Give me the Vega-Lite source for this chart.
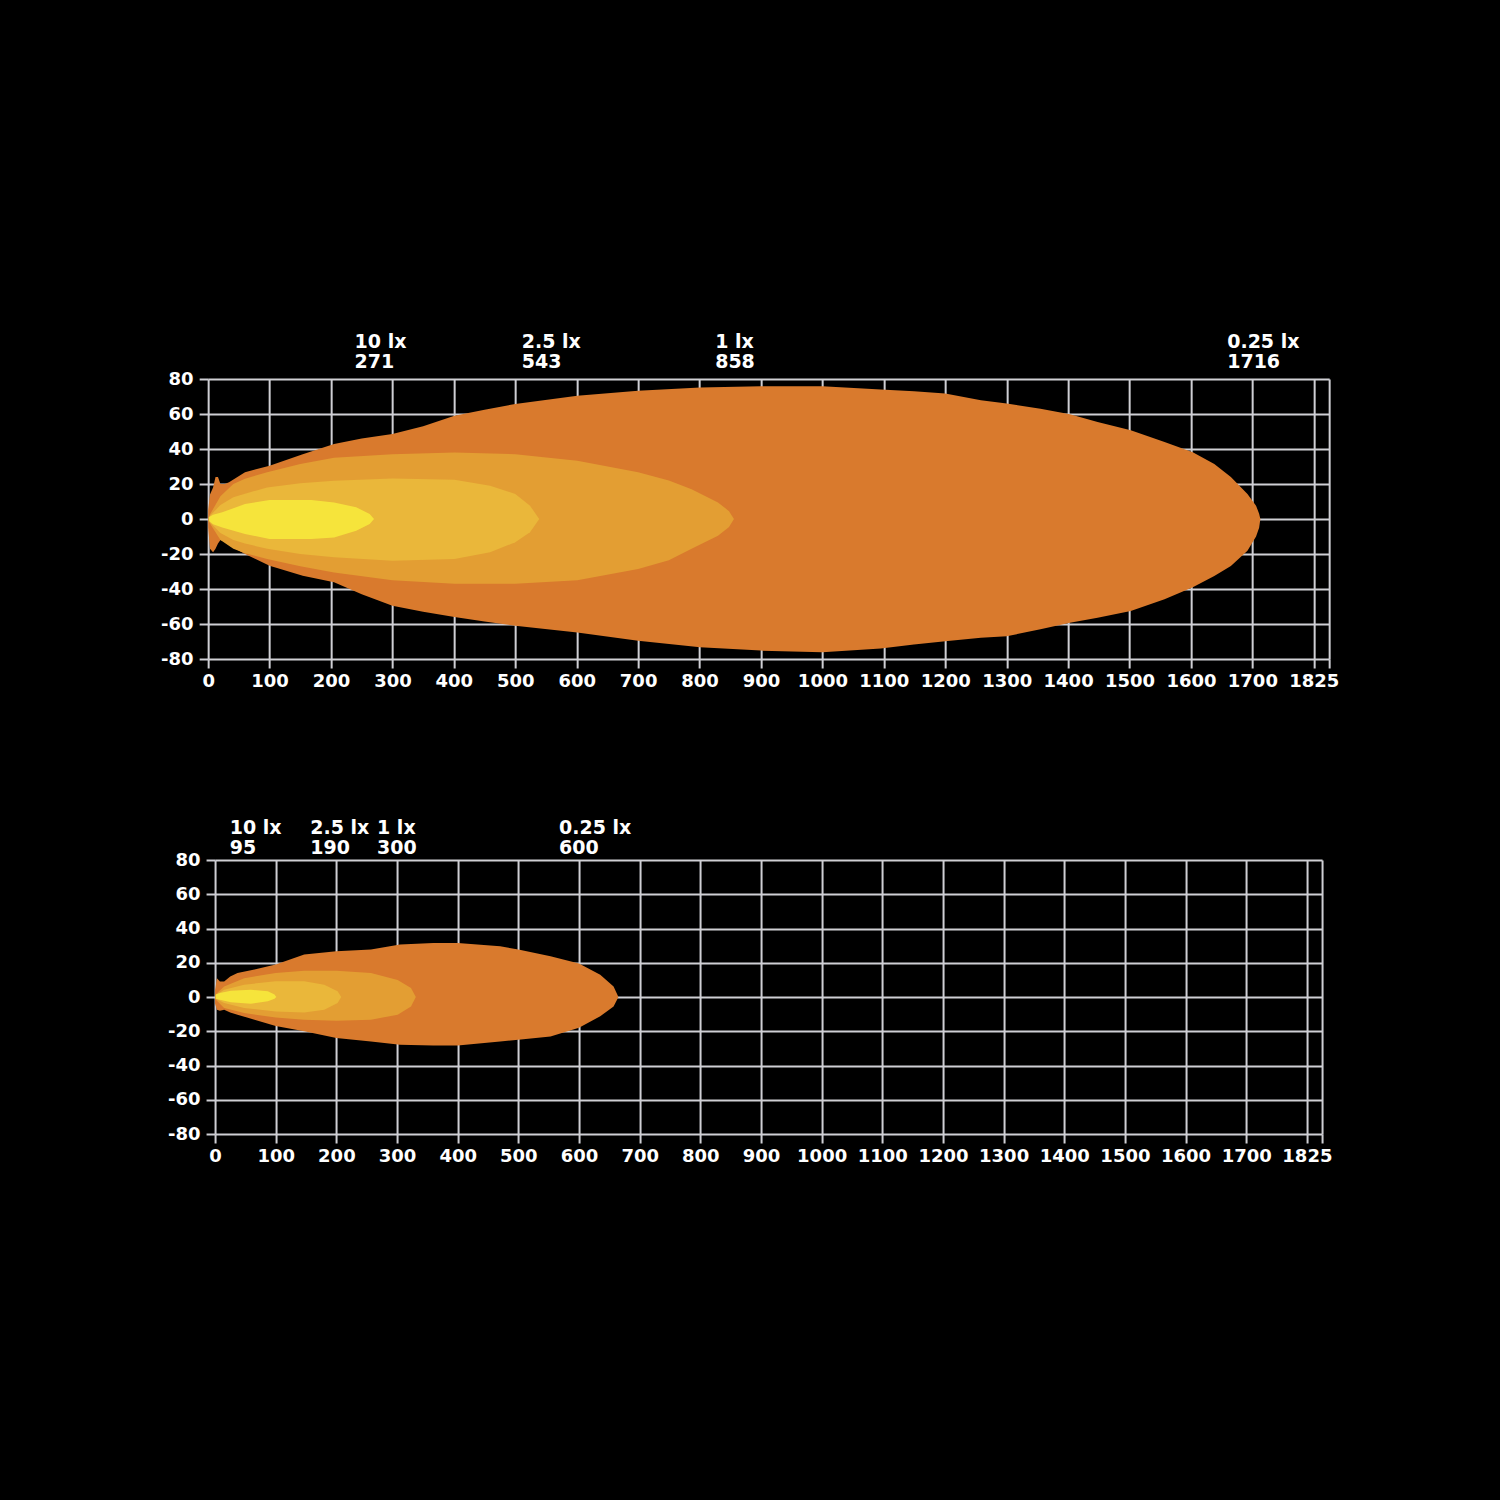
{
  "$schema": "https://vega.github.io/schema/vega-lite/v6.json",
  "background": "#000000",
  "padding": {"left": 160, "top": 333, "right": 165, "bottom": 345},
  "spacing": 129,
  "center": true,
  "config": {
    "view": {"stroke": null},
    "axis": {
      "labelColor": "#ffffff",
      "labelFont": "DejaVu Sans",
      "labelFontWeight": "bold",
      "labelFontSize": 18,
      "gridColor": "#cfcfd4",
      "gridWidth": 2,
      "gridOpacity": 1,
      "tickColor": "#cfcfd4",
      "tickWidth": 2,
      "tickSize": 9,
      "domain": false,
      "title": null,
      "zindex": 1,
      "labelOverlap": false,
      "labelFlush": false
    },
    "text": {"font": "DejaVu Sans", "fontWeight": "bold", "fontSize": 19, "color": "#ffffff", "align": "left", "baseline": "alphabetic"}
  },
  "datasets": {
    "top": [
      {"lux": "0.25", "x": 0, "lo": -5, "hi": 5},
      {"lux": "0.25", "x": 3, "lo": -17, "hi": 14},
      {"lux": "0.25", "x": 8, "lo": -19, "hi": 18},
      {"lux": "0.25", "x": 12, "lo": -17, "hi": 24},
      {"lux": "0.25", "x": 16, "lo": -14, "hi": 24},
      {"lux": "0.25", "x": 20, "lo": -12, "hi": 20},
      {"lux": "0.25", "x": 27, "lo": -13, "hi": 20},
      {"lux": "0.25", "x": 34, "lo": -15, "hi": 21},
      {"lux": "0.25", "x": 60, "lo": -20, "hi": 26.7},
      {"lux": "0.25", "x": 100, "lo": -26.7, "hi": 30.5},
      {"lux": "0.25", "x": 154, "lo": -32.4, "hi": 37},
      {"lux": "0.25", "x": 205, "lo": -36.2, "hi": 42.8},
      {"lux": "0.25", "x": 250, "lo": -43, "hi": 46},
      {"lux": "0.25", "x": 300, "lo": -49.5, "hi": 48.6},
      {"lux": "0.25", "x": 350, "lo": -53, "hi": 53},
      {"lux": "0.25", "x": 401, "lo": -56, "hi": 59},
      {"lux": "0.25", "x": 450, "lo": -58.5, "hi": 62.5},
      {"lux": "0.25", "x": 500, "lo": -61, "hi": 65.7},
      {"lux": "0.25", "x": 601, "lo": -64.8, "hi": 70.5},
      {"lux": "0.25", "x": 700, "lo": -69.5, "hi": 73.3},
      {"lux": "0.25", "x": 801, "lo": -73.3, "hi": 75.2},
      {"lux": "0.25", "x": 900, "lo": -75.2, "hi": 75.8},
      {"lux": "0.25", "x": 1000, "lo": -76.2, "hi": 75.8},
      {"lux": "0.25", "x": 1095, "lo": -74, "hi": 74},
      {"lux": "0.25", "x": 1149, "lo": -71.7, "hi": 73},
      {"lux": "0.25", "x": 1200, "lo": -69.8, "hi": 71.7},
      {"lux": "0.25", "x": 1258, "lo": -67.9, "hi": 67.9},
      {"lux": "0.25", "x": 1300, "lo": -67, "hi": 66},
      {"lux": "0.25", "x": 1355, "lo": -63, "hi": 63},
      {"lux": "0.25", "x": 1403, "lo": -59.3, "hi": 59.8},
      {"lux": "0.25", "x": 1448, "lo": -56.4, "hi": 55.4},
      {"lux": "0.25", "x": 1502, "lo": -52.6, "hi": 50.7},
      {"lux": "0.25", "x": 1557, "lo": -45.9, "hi": 44},
      {"lux": "0.25", "x": 1603, "lo": -39, "hi": 38.2},
      {"lux": "0.25", "x": 1638, "lo": -32.5, "hi": 31.5},
      {"lux": "0.25", "x": 1665, "lo": -26.8, "hi": 24},
      {"lux": "0.25", "x": 1692, "lo": -18.2, "hi": 14.3},
      {"lux": "0.25", "x": 1706, "lo": -10, "hi": 7.6},
      {"lux": "0.25", "x": 1711, "lo": -5, "hi": 3},
      {"lux": "0.25", "x": 1713, "lo": 0, "hi": 0},

      {"lux": "1", "x": 2, "lo": -2, "hi": 2},
      {"lux": "1", "x": 20, "lo": -12, "hi": 13},
      {"lux": "1", "x": 41, "lo": -17, "hi": 20},
      {"lux": "1", "x": 60, "lo": -19.5, "hi": 23},
      {"lux": "1", "x": 96, "lo": -22.9, "hi": 26.7},
      {"lux": "1", "x": 150, "lo": -27, "hi": 31.5},
      {"lux": "1", "x": 205, "lo": -30.5, "hi": 35},
      {"lux": "1", "x": 300, "lo": -35, "hi": 37},
      {"lux": "1", "x": 401, "lo": -37, "hi": 38},
      {"lux": "1", "x": 500, "lo": -37, "hi": 37},
      {"lux": "1", "x": 601, "lo": -35, "hi": 33.3},
      {"lux": "1", "x": 700, "lo": -28.6, "hi": 26.7},
      {"lux": "1", "x": 750, "lo": -23.5, "hi": 22},
      {"lux": "1", "x": 787, "lo": -17, "hi": 17},
      {"lux": "1", "x": 830, "lo": -9.5, "hi": 9.5},
      {"lux": "1", "x": 848, "lo": -4.5, "hi": 4.5},
      {"lux": "1", "x": 856, "lo": 0, "hi": 0},

      {"lux": "2.5", "x": 2, "lo": -1.5, "hi": 1.5},
      {"lux": "2.5", "x": 20, "lo": -8, "hi": 8},
      {"lux": "2.5", "x": 41, "lo": -12, "hi": 12.4},
      {"lux": "2.5", "x": 60, "lo": -14, "hi": 14.5},
      {"lux": "2.5", "x": 96, "lo": -17, "hi": 18},
      {"lux": "2.5", "x": 150, "lo": -20, "hi": 20.5},
      {"lux": "2.5", "x": 205, "lo": -21.9, "hi": 21.9},
      {"lux": "2.5", "x": 300, "lo": -23.8, "hi": 23.2},
      {"lux": "2.5", "x": 401, "lo": -22.9, "hi": 22.5},
      {"lux": "2.5", "x": 459, "lo": -19, "hi": 19},
      {"lux": "2.5", "x": 500, "lo": -13.3, "hi": 14.3},
      {"lux": "2.5", "x": 524, "lo": -7.6, "hi": 7.6},
      {"lux": "2.5", "x": 539, "lo": 0, "hi": 0},

      {"lux": "10", "x": 1, "lo": -1, "hi": 1},
      {"lux": "10", "x": 8, "lo": -3, "hi": 2.5},
      {"lux": "10", "x": 23, "lo": -4.8, "hi": 3.8},
      {"lux": "10", "x": 60, "lo": -8.6, "hi": 8.6},
      {"lux": "10", "x": 100, "lo": -11.4, "hi": 10.9},
      {"lux": "10", "x": 168, "lo": -11.4, "hi": 10.9},
      {"lux": "10", "x": 205, "lo": -10.5, "hi": 9.5},
      {"lux": "10", "x": 241, "lo": -6.7, "hi": 6.7},
      {"lux": "10", "x": 263, "lo": -2.9, "hi": 2.9},
      {"lux": "10", "x": 270, "lo": 0, "hi": 0}
    ],
    "bottom": [
      {"lux": "0.25", "x": 0, "lo": -4, "hi": 4},
      {"lux": "0.25", "x": 3, "lo": -7.4, "hi": 11},
      {"lux": "0.25", "x": 8, "lo": -8, "hi": 9},
      {"lux": "0.25", "x": 15, "lo": -7.4, "hi": 9},
      {"lux": "0.25", "x": 25, "lo": -9, "hi": 12},
      {"lux": "0.25", "x": 37, "lo": -10.3, "hi": 14},
      {"lux": "0.25", "x": 65, "lo": -13.3, "hi": 16},
      {"lux": "0.25", "x": 100, "lo": -17, "hi": 19},
      {"lux": "0.25", "x": 147, "lo": -20, "hi": 24.8},
      {"lux": "0.25", "x": 200, "lo": -24, "hi": 26.7},
      {"lux": "0.25", "x": 257, "lo": -26, "hi": 27.7},
      {"lux": "0.25", "x": 305, "lo": -27.9, "hi": 30.6},
      {"lux": "0.25", "x": 360, "lo": -28.3, "hi": 31.6},
      {"lux": "0.25", "x": 400, "lo": -28.3, "hi": 31.6},
      {"lux": "0.25", "x": 470, "lo": -26, "hi": 29.6},
      {"lux": "0.25", "x": 500, "lo": -25, "hi": 27.7},
      {"lux": "0.25", "x": 553, "lo": -23, "hi": 23.8},
      {"lux": "0.25", "x": 600, "lo": -18, "hi": 19.5},
      {"lux": "0.25", "x": 635, "lo": -11.3, "hi": 13},
      {"lux": "0.25", "x": 657, "lo": -5.5, "hi": 6.2},
      {"lux": "0.25", "x": 665, "lo": 0, "hi": 0},

      {"lux": "1", "x": 1, "lo": -1.5, "hi": 1.5},
      {"lux": "1", "x": 15, "lo": -6.4, "hi": 6.2},
      {"lux": "1", "x": 48, "lo": -9.4, "hi": 11},
      {"lux": "1", "x": 100, "lo": -11.9, "hi": 14},
      {"lux": "1", "x": 147, "lo": -13.3, "hi": 15.4},
      {"lux": "1", "x": 200, "lo": -13.8, "hi": 15.4},
      {"lux": "1", "x": 257, "lo": -13.3, "hi": 14},
      {"lux": "1", "x": 301, "lo": -10.3, "hi": 10},
      {"lux": "1", "x": 323, "lo": -5.5, "hi": 5.3},
      {"lux": "1", "x": 331, "lo": 0, "hi": 0},

      {"lux": "2.5", "x": 1, "lo": -1, "hi": 1},
      {"lux": "2.5", "x": 15, "lo": -3.5, "hi": 4.3},
      {"lux": "2.5", "x": 48, "lo": -6.4, "hi": 7.2},
      {"lux": "2.5", "x": 100, "lo": -8.4, "hi": 9.2},
      {"lux": "2.5", "x": 147, "lo": -9, "hi": 9.2},
      {"lux": "2.5", "x": 180, "lo": -7.4, "hi": 7.2},
      {"lux": "2.5", "x": 202, "lo": -3.5, "hi": 3.3},
      {"lux": "2.5", "x": 208, "lo": 0, "hi": 0},

      {"lux": "10", "x": 1, "lo": -1, "hi": 1.5},
      {"lux": "10", "x": 8, "lo": -1.6, "hi": 2.3},
      {"lux": "10", "x": 26, "lo": -3.1, "hi": 3.7},
      {"lux": "10", "x": 59, "lo": -3.9, "hi": 4.3},
      {"lux": "10", "x": 87, "lo": -2.5, "hi": 3.3},
      {"lux": "10", "x": 98, "lo": -1, "hi": 1.4},
      {"lux": "10", "x": 101, "lo": 0, "hi": 0}
    ],
    "topLabels": [
      {"name": "10 lx", "x": 271},
      {"name": "2.5 lx", "x": 543},
      {"name": "1 lx", "x": 858},
      {"name": "0.25 lx", "x": 1716}
    ],
    "bottomLabels": [
      {"name": "10 lx", "x": 95},
      {"name": "2.5 lx", "x": 190},
      {"name": "1 lx", "x": 300},
      {"name": "0.25 lx", "x": 600}
    ]
  },
  "vconcat": [
    {
      "width": 1121,
      "height": 280,
      "encoding": {
        "x": {"field": "x", "type": "quantitative", "scale": {"domain": [0, 1825], "nice": false, "zero": false},
          "axis": {"values": [0,100,200,300,400,500,600,700,800,900,1000,1100,1200,1300,1400,1500,1600,1700,1800,1825], "labelPadding": 4,
            "labelExpr": "datum.value == 1800 ? '1825' : (datum.value == 1825 ? '' : '' + datum.value)"}}
      },
      "layer": [
        {
          "data": {"name": "top"},
          "transform": [{"filter": "datum.lux == '0.25'"}],
          "mark": {"type": "area", "color": "#D97A2D", "opacity": 1},
          "encoding": {
            "y": {"field": "lo", "type": "quantitative", "stack": null, "scale": {"domain": [-80, 80], "nice": false, "zero": false},
              "axis": {"values": [-80,-60,-40,-20,0,20,40,60,80], "tickCount": 9, "labelPadding": 6, "labelExpr": "'' + datum.value"}},
            "y2": {"field": "hi"}
          }
        },
        {
          "data": {"name": "top"},
          "transform": [{"filter": "datum.lux == '1'"}],
          "mark": {"type": "area", "color": "#E39E33", "opacity": 1},
          "encoding": {"y": {"field": "lo", "type": "quantitative", "stack": null,
              "axis": {"values": [-80,-60,-40,-20,0,20,40,60,80], "tickCount": 9, "labelPadding": 6, "labelExpr": "'' + datum.value"}}, "y2": {"field": "hi"}}
        },
        {
          "data": {"name": "top"},
          "transform": [{"filter": "datum.lux == '2.5'"}],
          "mark": {"type": "area", "color": "#EAB73A", "opacity": 1},
          "encoding": {"y": {"field": "lo", "type": "quantitative", "stack": null,
              "axis": {"values": [-80,-60,-40,-20,0,20,40,60,80], "tickCount": 9, "labelPadding": 6, "labelExpr": "'' + datum.value"}}, "y2": {"field": "hi"}}
        },
        {
          "data": {"name": "top"},
          "transform": [{"filter": "datum.lux == '10'"}],
          "mark": {"type": "area", "color": "#F6E43B", "opacity": 1},
          "encoding": {"y": {"field": "lo", "type": "quantitative", "stack": null,
              "axis": {"values": [-80,-60,-40,-20,0,20,40,60,80], "tickCount": 9, "labelPadding": 6, "labelExpr": "'' + datum.value"}}, "y2": {"field": "hi"}}
        },
        {
          "data": {"name": "topLabels"},
          "transform": [{"filter": "datum.x != 1716"}],
          "mark": {"type": "text", "dy": -31, "dx": -20, "clip": false},
          "encoding": {"y": {"datum": 80, "type": "quantitative"}, "text": {"field": "name"}}
        },
        {
          "data": {"name": "topLabels"},
          "transform": [{"filter": "datum.x != 1716"}],
          "mark": {"type": "text", "dy": -11, "dx": -20, "clip": false},
          "encoding": {"y": {"datum": 80, "type": "quantitative"}, "text": {"field": "x", "type": "quantitative", "format": "d"}}
        },
        {
          "data": {"name": "topLabels"},
          "transform": [{"filter": "datum.x == 1716"}],
          "mark": {"type": "text", "dy": -31, "dx": -35, "clip": false},
          "encoding": {"y": {"datum": 80, "type": "quantitative"}, "text": {"field": "name"}}
        },
        {
          "data": {"name": "topLabels"},
          "transform": [{"filter": "datum.x == 1716"}],
          "mark": {"type": "text", "dy": -11, "dx": -35, "clip": false},
          "encoding": {"y": {"datum": 80, "type": "quantitative"}, "text": {"field": "x", "type": "quantitative", "format": "d"}}
        }
      ]
    },
    {
      "width": 1107,
      "height": 274,
      "encoding": {
        "x": {"field": "x", "type": "quantitative", "scale": {"domain": [0, 1825], "nice": false, "zero": false},
          "axis": {"values": [0,100,200,300,400,500,600,700,800,900,1000,1100,1200,1300,1400,1500,1600,1700,1800,1825], "labelPadding": 4,
            "labelExpr": "datum.value == 1800 ? '1825' : (datum.value == 1825 ? '' : '' + datum.value)"}}
      },
      "layer": [
        {
          "data": {"name": "bottom"},
          "transform": [{"filter": "datum.lux == '0.25'"}],
          "mark": {"type": "area", "color": "#D97A2D", "opacity": 1},
          "encoding": {
            "y": {"field": "lo", "type": "quantitative", "stack": null, "scale": {"domain": [-80, 80], "nice": false, "zero": false},
              "axis": {"values": [-80,-60,-40,-20,0,20,40,60,80], "tickCount": 9, "labelPadding": 6, "labelExpr": "'' + datum.value"}},
            "y2": {"field": "hi"}
          }
        },
        {
          "data": {"name": "bottom"},
          "transform": [{"filter": "datum.lux == '1'"}],
          "mark": {"type": "area", "color": "#E39E33", "opacity": 1},
          "encoding": {"y": {"field": "lo", "type": "quantitative", "stack": null,
              "axis": {"values": [-80,-60,-40,-20,0,20,40,60,80], "tickCount": 9, "labelPadding": 6, "labelExpr": "'' + datum.value"}}, "y2": {"field": "hi"}}
        },
        {
          "data": {"name": "bottom"},
          "transform": [{"filter": "datum.lux == '2.5'"}],
          "mark": {"type": "area", "color": "#EAB73A", "opacity": 1},
          "encoding": {"y": {"field": "lo", "type": "quantitative", "stack": null,
              "axis": {"values": [-80,-60,-40,-20,0,20,40,60,80], "tickCount": 9, "labelPadding": 6, "labelExpr": "'' + datum.value"}}, "y2": {"field": "hi"}}
        },
        {
          "data": {"name": "bottom"},
          "transform": [{"filter": "datum.lux == '10'"}],
          "mark": {"type": "area", "color": "#F6E43B", "opacity": 1},
          "encoding": {"y": {"field": "lo", "type": "quantitative", "stack": null,
              "axis": {"values": [-80,-60,-40,-20,0,20,40,60,80], "tickCount": 9, "labelPadding": 6, "labelExpr": "'' + datum.value"}}, "y2": {"field": "hi"}}
        },
        {
          "data": {"name": "bottomLabels"},
          "transform": [{"filter": "datum.x != 95"}],
          "mark": {"type": "text", "dy": -26, "dx": -20, "clip": false},
          "encoding": {"y": {"datum": 80, "type": "quantitative"}, "text": {"field": "name"}}
        },
        {
          "data": {"name": "bottomLabels"},
          "transform": [{"filter": "datum.x != 95"}],
          "mark": {"type": "text", "dy": -6, "dx": -20, "clip": false},
          "encoding": {"y": {"datum": 80, "type": "quantitative"}, "text": {"field": "x", "type": "quantitative", "format": "d"}}
        },
        {
          "data": {"name": "bottomLabels"},
          "transform": [{"filter": "datum.x == 95"}],
          "mark": {"type": "text", "dy": -26, "dx": -43, "clip": false},
          "encoding": {"y": {"datum": 80, "type": "quantitative"}, "text": {"field": "name"}}
        },
        {
          "data": {"name": "bottomLabels"},
          "transform": [{"filter": "datum.x == 95"}],
          "mark": {"type": "text", "dy": -6, "dx": -43, "clip": false},
          "encoding": {"y": {"datum": 80, "type": "quantitative"}, "text": {"field": "x", "type": "quantitative", "format": "d"}}
        }
      ]
    }
  ]
}
